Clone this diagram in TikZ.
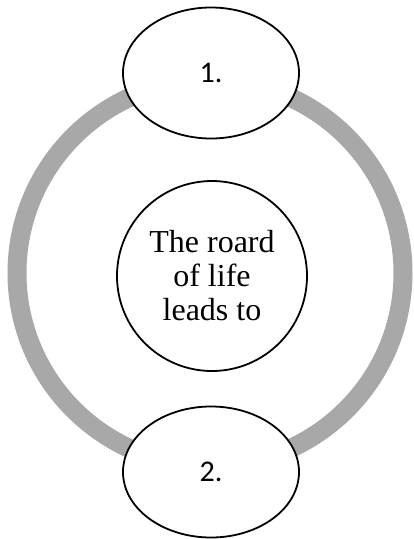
\documentclass[tikz,border=0pt]{standalone}
\usepackage{fontspec}
\setmainfont{Liberation Serif}
\newfontfamily\numfont{Carlito}
\usetikzlibrary{shapes.geometric}
\definecolor{ringgray}{HTML}{A8A8A8}
\tikzset{
  ring/.style={draw=ringgray, line width=19pt},
  oval/.style={ellipse, draw=black, line width=1.8pt, fill=white, inner sep=0pt,
    minimum width=176pt, minimum height=131pt, font=\numfont\fontsize{30}{32}\selectfont},
  hub/.style={circle, draw=black, line width=1.8pt, fill=white, inner sep=0pt,
    minimum size=190pt, align=center, font=\fontsize{32}{34}\selectfont}
}
\begin{document}
\begin{tikzpicture}[x=1pt,y=-1pt]
\useasboundingbox (0,0) rectangle (414,539);
\draw[ring] (210,273) circle (193pt);
\node[hub] (center) at (212,276) {The roard\\of life\\leads to};
\node[oval] (one) at (211,73) {1.};
\node[oval] (two) at (211,472) {2.};
\end{tikzpicture}
\end{document}
